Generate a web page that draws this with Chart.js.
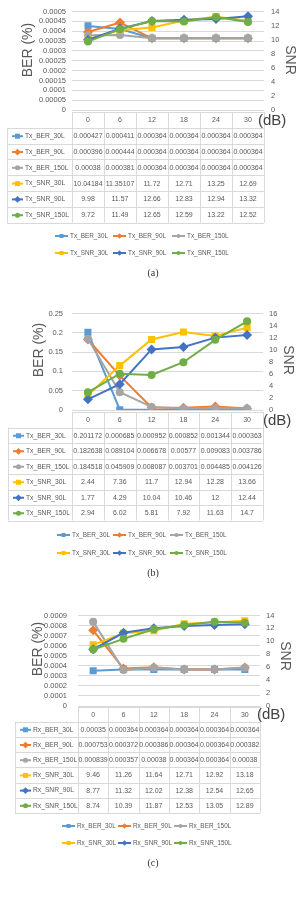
<!DOCTYPE html>
<html>
<head>
<meta charset="utf-8">
<title>BER / SNR</title>
<script src="https://cdn.jsdelivr.net/npm/chart.js"></script>
<style>
    body { margin: 0; background: #fff; width: 299px; height: 904px; overflow: hidden; }
    .panel { position: absolute; left: 0; width: 299px; height: 300px; }
</style>
</head>
<body>
<div class="panel" style="top:0px"><canvas id="chartA" width="299" height="300"></canvas></div>
<div class="panel" style="top:300px"><canvas id="chartB" width="299" height="300"></canvas></div>
<div class="panel" style="top:600px"><canvas id="chartC" width="299" height="300"></canvas></div>

<script>
    const stepsDb = ['0', '6', '12', '18', '24', '30'];

    // (a) Tx
    const aNames = ['Tx_BER_30L', 'Tx_BER_90L', 'Tx_BER_150L', 'Tx_SNR_30L', 'Tx_SNR_90L', 'Tx_SNR_150L'];
    const aBer30L = [0.000427, 0.000411, 0.000364, 0.000364, 0.000364, 0.000364];
    const aBer90L = [0.000396, 0.000444, 0.000364, 0.000364, 0.000364, 0.000364];
    const aBer150L = [0.00038, 0.000381, 0.000364, 0.000364, 0.000364, 0.000364];
    const aSnr30L = [10.04184, 11.35107, 11.72, 12.71, 13.25, 12.69];
    const aSnr90L = [9.98, 11.57, 12.66, 12.83, 12.94, 13.32];
    const aSnr150L = [9.72, 11.49, 12.65, 12.59, 13.22, 12.52];
    const aBerMax = 0.0005, aBerStep = 0.00005, aSnrMax = 14;

    // (b) Tx
    const bNames = ['Tx_BER_30L', 'Tx_BER_90L', 'Tx_BER_150L', 'Tx_SNR_30L', 'Tx_SNR_90L', 'Tx_SNR_150L'];
    const bBer30L = [0.201172, 0.000685, 0.000952, 0.000852, 0.001344, 0.000363];
    const bBer90L = [0.182638, 0.089104, 0.006678, 0.00577, 0.009083, 0.003786];
    const bBer150L = [0.184518, 0.045909, 0.008087, 0.003701, 0.004485, 0.004126];
    const bSnr30L = [2.44, 7.36, 11.7, 12.94, 12.28, 13.66];
    const bSnr90L = [1.77, 4.29, 10.04, 10.46, 12, 12.44];
    const bSnr150L = [2.94, 6.02, 5.81, 7.92, 11.63, 14.7];
    const bBerMax = 0.25, bBerStep = 0.05, bSnrMax = 16;

    // (c) Rx
    const cNames = ['Rx_BER_30L', 'Rx_BER_90L', 'Rx_BER_150L', 'Rx_SNR_30L', 'Rx_SNR_90L', 'Rx_SNR_150L'];
    const cBer30L = [0.00035, 0.000364, 0.000364, 0.000364, 0.000364, 0.000364];
    const cBer90L = [0.000753, 0.000372, 0.000386, 0.000364, 0.000364, 0.000382];
    const cBer150L = [0.000839, 0.000357, 0.00038, 0.000364, 0.000364, 0.00038];
    const cSnr30L = [9.46, 11.26, 11.64, 12.71, 12.92, 13.18];
    const cSnr90L = [8.77, 11.32, 12.02, 12.38, 12.54, 12.65];
    const cSnr150L = [8.74, 10.39, 11.87, 12.53, 13.05, 12.89];
    const cBerMax = 0.0009, cBerStep = 0.0001, cSnrMax = 14;

    const colors = ['#5B9BD5', '#ED7D31', '#A5A5A5', '#FFC000', '#4472C4', '#70AD47'];
    const markers = ['rect', 'rectRot', 'circle', 'rect', 'rectRot', 'circle'];
    const FONT = '"Liberation Sans", Arial, sans-serif';
    const TXT = '#595959';

    function mark(ctx, style, x, y, r, color) {
        ctx.fillStyle = color;
        ctx.beginPath();
        if (style === 'circle') ctx.arc(x, y, r, 0, Math.PI * 2);
        else if (style === 'rect') ctx.rect(x - r, y - r, 2 * r, 2 * r);
        else {
            const d = r * 1.35;
            ctx.moveTo(x, y - d); ctx.lineTo(x + d, y); ctx.lineTo(x, y + d); ctx.lineTo(x - d, y);
            ctx.closePath();
        }
        ctx.fill();
    }

    function keyLine(ctx, i, x, y, len, r) {
        ctx.strokeStyle = colors[i];
        ctx.lineWidth = 2;
        ctx.beginPath();
        ctx.moveTo(x, y); ctx.lineTo(x + len, y);
        ctx.stroke();
        mark(ctx, markers[i], x + len / 2, y, r, colors[i]);
    }

    const extras = {
        id: 'extras',
        afterDraw(chart) {
            const p = chart.options.plugins.extras;
            const ctx = chart.ctx;
            const xs = chart.scales.x;
            const cw = xs.getPixelForValue(1) - xs.getPixelForValue(0);
            const left = xs.getPixelForValue(0) - cw / 2;
            const right = xs.getPixelForValue(stepsDb.length - 1) + cw / 2;
            const rows = p.series.length;
            const top = p.tableTop, rh = p.rowH;
            const bottom = top + (rows + 1) * rh;
            const px = v => Math.round(v) + 0.5;

            ctx.save();
            // data table grid
            ctx.strokeStyle = '#D9D9D9';
            ctx.lineWidth = 1;
            ctx.beginPath();
            ctx.moveTo(left, px(top)); ctx.lineTo(right, px(top));
            for (let r = 1; r <= rows + 1; r++) {
                ctx.moveTo(p.tableLeft, px(top + r * rh)); ctx.lineTo(right, px(top + r * rh));
            }
            for (let c = 0; c <= stepsDb.length; c++) {
                ctx.moveTo(px(left + c * cw), top); ctx.lineTo(px(left + c * cw), bottom);
            }
            ctx.moveTo(px(p.tableLeft), top + rh); ctx.lineTo(px(p.tableLeft), bottom);
            ctx.stroke();

            ctx.font = '7px ' + FONT;
            ctx.fillStyle = TXT;
            ctx.textBaseline = 'middle';
            ctx.textAlign = 'center';
            stepsDb.forEach((s, c) => ctx.fillText(s, xs.getPixelForValue(c), top + rh / 2 + 0.5));
            p.series.forEach((vals, r) => {
                const y = top + (r + 1.5) * rh + 0.5;
                ctx.font = '7px ' + FONT;
                ctx.fillStyle = TXT;
                ctx.textAlign = 'center';
                vals.forEach((v, c) => ctx.fillText(String(v), xs.getPixelForValue(c), y));
                keyLine(ctx, r, p.tableLeft + 5, y, 11, 2.5);
                ctx.font = '6.7px ' + FONT;
                ctx.fillStyle = TXT;
                ctx.textAlign = 'left';
                ctx.fillText(p.names[r], p.tableLeft + 18, y);
            });

            // legend
            ctx.font = '6.4px ' + FONT;
            p.names.forEach((name, i) => {
                const x = p.legendX[i % 3], y = p.legendY[Math.floor(i / 3)];
                keyLine(ctx, i, x, y, 13, 2);
                ctx.fillStyle = TXT;
                ctx.textAlign = 'left';
                ctx.fillText(name, x + 15, y + 0.5);
            });

            // caption
            ctx.font = '10px "Liberation Serif", "Times New Roman", serif';
            ctx.fillStyle = '#333';
            ctx.textAlign = 'center';
            ctx.fillText(p.caption, 153, p.captionY);

            // (dB)
            ctx.font = '15px ' + FONT;
            ctx.fillStyle = '#404040';
            ctx.textAlign = 'left';
            ctx.fillText('(dB)', p.dbX, p.dbY);

            // axis titles
            ctx.font = '14px ' + FONT;
            ctx.fillStyle = TXT;
            ctx.textAlign = 'center';
            ctx.save();
            ctx.translate(p.berX, p.berY);
            ctx.rotate(-Math.PI / 2);
            ctx.fillText('BER (%)', 0, 0);
            ctx.restore();
            ctx.save();
            ctx.translate(p.snrX, p.snrY);
            ctx.rotate(Math.PI / 2);
            ctx.fillText('SNR', 0, 0);
            ctx.restore();
            ctx.restore();
        }
    };

    function makePanel(id, names, series, berMax, berStep, snrMax, p) {
        const datasets = series.map((vals, i) => ({
            label: names[i],
            data: vals,
            yAxisID: i < 3 ? 'y' : 'y1',
            borderColor: colors[i],
            backgroundColor: colors[i],
            borderWidth: 2,
            pointStyle: markers[i],
            pointRadius: markers[i] === 'circle' ? 4 : 5,
            pointBorderWidth: 0,
            tension: 0,
            order: series.length - i
        }));
        new Chart(document.getElementById(id), {
            type: 'line',
            data: { labels: stepsDb, datasets: datasets },
            plugins: [extras],
            options: {
                responsive: false,
                devicePixelRatio: 1,
                animation: false,
                layout: { padding: { top: p.plotTop, bottom: 300 - p.plotBottom, left: 0, right: 0 } },
                plugins: {
                    legend: { display: false },
                    tooltip: { enabled: false },
                    extras: Object.assign({ names: names, series: series }, p)
                },
                scales: {
                    x: {
                        offset: true,
                        ticks: { display: false },
                        grid: { display: false },
                        border: { display: false },
                        afterFit: s => { s.height = 0; }
                    },
                    y: {
                        position: 'left',
                        min: 0, max: berMax,
                        ticks: {
                            stepSize: berStep, autoSkip: false, padding: p.leftPad,
                            color: TXT, font: { family: FONT, size: 7.5 },
                            callback: v => Number(v.toFixed(6)).toString()
                        },
                        grid: { color: '#D9D9D9', drawTicks: false },
                        border: { display: false },
                        afterFit: s => { s.width = p.plotLeft; }
                    },
                    y1: {
                        position: 'right',
                        min: 0, max: snrMax,
                        ticks: {
                            stepSize: 2, autoSkip: false, padding: p.rightPad,
                            color: TXT, font: { family: FONT, size: 7.5 }
                        },
                        grid: { display: false, drawTicks: false },
                        border: { display: false },
                        afterFit: s => { s.width = 299 - p.plotRight; }
                    }
                }
            }
        });
    }

    makePanel('chartA', aNames, [aBer30L, aBer90L, aBer150L, aSnr30L, aSnr90L, aSnr150L], aBerMax, aBerStep, aSnrMax, {
        plotTop: 8, plotBottom: 110, plotLeft: 72, plotRight: 264, leftPad: 6, rightPad: 7,
        tableTop: 112, rowH: 15.8, tableLeft: 7,
        legendX: [55, 113, 172], legendY: [236, 253], caption: '(a)', captionY: 273,
        dbX: 258, dbY: 121, berX: 28, berY: 50, snrX: 290, snrY: 60
    });
    makePanel('chartB', bNames, [bBer30L, bBer90L, bBer150L, bSnr30L, bSnr90L, bSnr150L], bBerMax, bBerStep, bSnrMax, {
        plotTop: 8, plotBottom: 110, plotLeft: 72, plotRight: 263, leftPad: 9, rightPad: 6,
        tableTop: 112, rowH: 15.5, tableLeft: 8,
        legendX: [57, 113, 170], legendY: [235, 253], caption: '(b)', captionY: 273,
        dbX: 263, dbY: 121, berX: 39, berY: 50, snrX: 288, snrY: 60
    });
    makePanel('chartC', cNames, [cBer30L, cBer90L, cBer150L, cSnr30L, cSnr90L, cSnr150L], cBerMax, cBerStep, cSnrMax, {
        plotTop: 7, plotBottom: 106, plotLeft: 78, plotRight: 260, leftPad: 11, rightPad: 6,
        tableTop: 106.5, rowH: 15.2, tableLeft: 15,
        legendX: [62, 118, 174], legendY: [226, 243], caption: '(c)', captionY: 263,
        dbX: 257, dbY: 115, berX: 38, berY: 49, snrX: 285, snrY: 56
    });
</script>
</body>
</html>
